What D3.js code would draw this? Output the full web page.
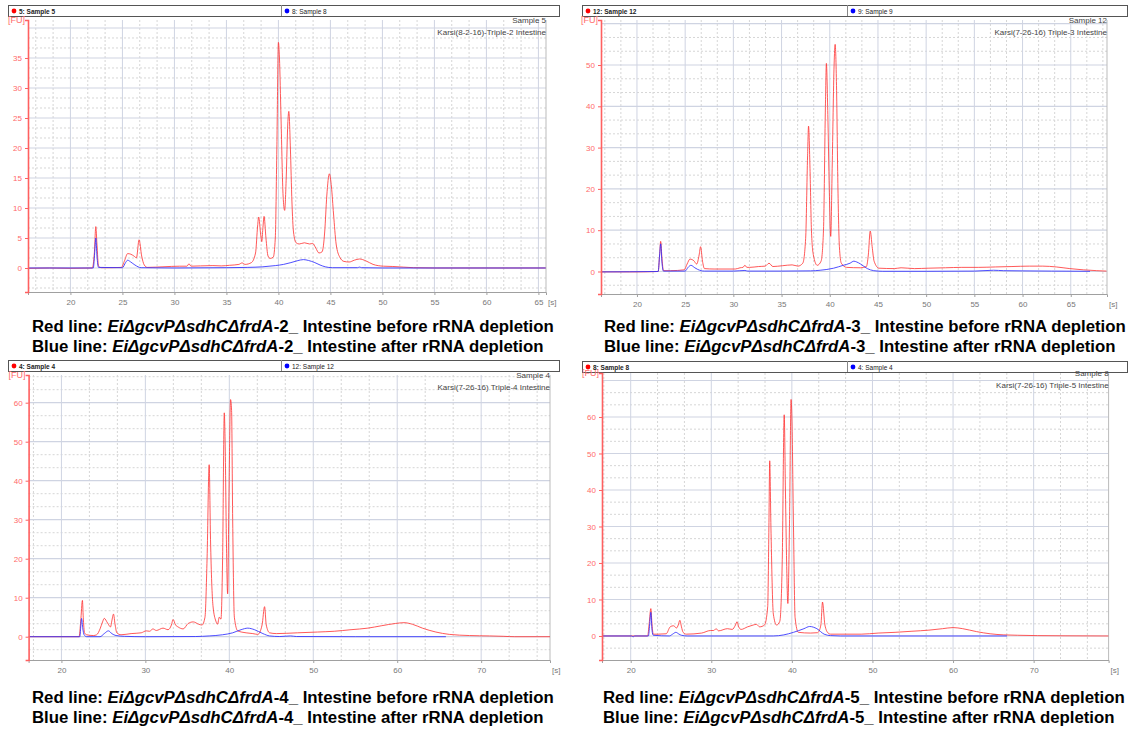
<!DOCTYPE html>
<html>
<head>
<meta charset="utf-8">
<script src="https://cdn.jsdelivr.net/npm/d3@7/dist/d3.min.js"></script>
<style>
  body { margin: 0; background: #fff; }
  svg { display: block; font-family: "Liberation Sans", Arial, sans-serif; }
</style>
</head>
<body>
<svg id="chart" width="1128" height="730"></svg>
<script>
'use strict';

// ---- values: [time s, FU] ----
const redA = [[15.9,-0.05],[18,0],[20,-0.05],[22.1,0],[22.3,2.5],[22.44,6.9],[22.55,4],[22.7,0.3],[23,0.05],[24,0.05],[24.9,0.1],[25.2,1.2],[25.5,2.4],[25.8,2.3],[26.1,2.0],[26.35,1.7],[26.6,4.7],[26.85,2.0],[27.1,0.5],[27.4,0.1],[28.9,0.2],[30.5,0.3],[31.2,0.3],[31.4,0.7],[31.6,0.3],[32.5,0.35],[33.7,0.4],[34.5,0.35],[35.3,0.45],[36.2,0.6],[36.5,0.85],[36.8,0.6],[37.4,0.9],[37.8,2.5],[38.0,7.0],[38.1,8.5],[38.3,5.5],[38.4,4.4],[38.5,6.5],[38.62,8.6],[38.8,5],[39.0,2.0],[39.2,1.6],[39.5,1.8],[39.7,5],[39.85,20],[40.0,37.6],[40.1,35],[40.25,25],[40.45,12],[40.6,9.6],[40.75,15],[40.9,24],[41.0,26.1],[41.15,20],[41.3,11],[41.45,6],[41.7,4.2],[42.0,4.0],[42.5,4.2],[43.0,4.0],[43.3,4.1],[43.6,3.3],[43.9,2.5],[44.2,2.7],[44.45,6],[44.65,12],[44.9,15.7],[45.1,13.5],[45.3,9],[45.55,4],[45.9,1.8],[46.3,1.1],[46.8,1.0],[47.3,1.3],[47.8,1.5],[48.4,1.2],[49.1,0.6],[50.1,0.3],[51.0,0.25],[52.0,0.15],[53.0,0.05],[55,0],[60,0],[65.7,0]];
const blueA = [[15.9,0],[22.2,0],[22.35,3],[22.44,5.0],[22.55,2],[22.7,0.1],[25.0,0.05],[25.3,0.9],[25.5,1.3],[25.8,1.0],[26.2,0.5],[26.8,0.05],[30,0],[35,0.05],[37,0.1],[38.5,0.2],[39.7,0.4],[40.5,0.6],[41.2,0.9],[41.8,1.2],[42.4,1.4],[42.9,1.25],[43.5,0.9],[44.0,0.5],[44.5,0.2],[45.2,0.05],[47.6,0.05],[47.8,0.15],[48,0.05],[50,0],[65.7,0]];

const redB = [[16.3,-0.1],[20,-0.1],[22.2,0],[22.35,4],[22.46,7.3],[22.6,3],[22.75,0.2],[23.5,0.2],[24.9,0.4],[25.2,1.8],[25.5,3.0],[25.9,2.6],[26.2,1.8],[26.45,4],[26.6,6.0],[26.8,2.5],[27.0,0.7],[28,0.6],[30.2,0.6],[30.7,0.9],[31.0,1.0],[31.2,1.5],[31.4,1.0],[31.7,1.0],[32.6,1.2],[33.3,1.3],[33.7,2.0],[34.1,1.2],[35.1,1.4],[36.1,1.6],[36.7,1.3],[37.2,2.0],[37.5,8],[37.7,28],[37.8,35.2],[37.95,25],[38.1,10],[38.3,4],[38.7,1.5],[39.1,2.5],[39.35,10],[39.55,40],[39.65,50.4],[39.8,38],[39.95,20],[40.1,8.5],[40.25,25],[40.45,50],[40.56,55],[40.7,45],[40.85,20],[41.0,6],[41.2,2],[41.75,1.0],[43.2,0.9],[43.8,1.2],[44.0,4],[44.2,9.8],[44.4,6],[44.6,2.5],[45.1,0.8],[46.7,0.7],[47.4,0.9],[48.8,0.7],[50.2,0.8],[52,0.9],[53.7,1.0],[55.4,1.0],[57.2,1.1],[58.9,1.2],[60.7,1.3],[62.1,1.3],[63.5,1.1],[64.9,0.7],[66.3,0.4],[67.7,0.2],[68.7,0.1]];
const blueB = [[16.3,-0.1],[22.2,0],[22.35,4],[22.46,6.7],[22.6,2],[22.75,0.1],[25.0,0.1],[25.3,1.0],[25.6,1.5],[26.0,0.9],[26.3,0.5],[27.0,0.1],[30,0.1],[31.2,0.25],[31.5,0.1],[35,0.1],[38,0.15],[39,0.3],[40.4,0.8],[41.4,1.5],[42.1,2.0],[42.5,2.5],[42.8,2.3],[43.2,1.8],[43.9,0.7],[44.56,0.2],[45.5,0.05],[50,0.05],[55,0.1],[57,0.3],[58,0.2],[60,0.15],[63,0.1],[67,0.05]];

const redC = [[16.1,0],[22.1,0],[22.3,4],[22.5,9.3],[22.6,5],[22.75,1.0],[23.0,0.5],[23.8,0.3],[24.2,0.5],[24.6,2.0],[24.9,3.8],[25.1,4.7],[25.5,3.5],[25.85,2.5],[26.0,4],[26.2,5.8],[26.4,3],[26.6,1.0],[27.1,0.5],[28.3,0.8],[29.5,1.0],[30.1,1.5],[30.5,1.4],[30.9,2.0],[31.3,1.6],[32.1,2.2],[32.7,1.8],[33.1,3],[33.3,4.4],[33.6,3],[33.9,2.5],[34.5,2.0],[35.1,3.4],[35.7,3.8],[36.35,3.2],[36.75,3.0],[37.1,5],[37.35,20],[37.6,44.1],[37.76,25],[38.05,8],[38.4,4],[38.6,3.2],[38.8,5],[39.0,4.5],[39.2,20],[39.4,57.4],[39.5,50],[39.65,25],[39.8,11],[39.95,35],[40.15,60.8],[40.27,58],[40.4,30],[40.6,5],[41.0,1.5],[42.0,1.0],[42.8,0.8],[43.4,0.6],[43.9,3],[44.2,7.7],[44.4,3],[44.8,1.0],[45.6,0.8],[48.1,1.0],[50.5,1.2],[52.5,1.4],[54.5,1.8],[56.5,2.2],[58.1,2.8],[59.8,3.4],[60.8,3.6],[61.8,3.2],[63.0,2.2],[64.6,1.2],[66.2,0.6],[68.6,0.3],[71.0,0.2],[72.7,0.1],[74,0],[78.2,0]];
const blueC = [[16.1,0],[22.2,0],[22.3,2.5],[22.4,4.7],[22.55,2],[22.7,0.5],[23.0,0],[24.6,0],[25.1,0.8],[25.6,1.5],[26.0,0.8],[26.5,0.3],[27.5,0.1],[30,0],[36,0.05],[37.6,0.2],[39.2,0.5],[40.4,1.0],[41.4,1.8],[42.2,2.2],[43.0,1.8],[44.0,0.8],[44.8,0.2],[46,0.05],[47.3,0.2],[48,0.05],[55,0],[65.8,0]];

const redD = [[16.4,0],[22.1,0],[22.3,3.5],[22.5,7.5],[22.65,3],[22.8,0.5],[23.4,0.5],[24.4,0.6],[24.9,2.5],[25.3,2.8],[25.7,2.2],[25.9,3],[26.1,4.3],[26.3,2.5],[26.5,1.0],[26.9,0.5],[28.8,0.8],[29.9,1.5],[30.3,1.5],[30.6,2.0],[30.9,1.4],[32.0,2.0],[32.6,1.8],[33.0,3],[33.2,3.9],[33.4,2.5],[33.7,1.8],[34.5,2.5],[35.2,3.0],[35.6,3.2],[36.0,2.5],[36.6,3.0],[37.0,8],[37.15,30],[37.25,48],[37.4,30],[37.7,6],[38.1,3],[38.5,4],[38.8,20],[39.05,60.6],[39.2,40],[39.35,20],[39.5,8.9],[39.7,30],[39.9,64.8],[40.0,60],[40.2,30],[40.4,5],[40.8,1.0],[42.3,0.8],[43.2,0.9],[43.6,3],[43.8,9.3],[44.1,3],[44.5,0.8],[44.8,0.5],[48.6,0.5],[50.7,0.8],[52.8,1.0],[54.9,1.3],[57.0,1.6],[58.7,2.0],[60.0,2.3],[61.2,2.0],[62.9,1.2],[64.6,0.6],[66.3,0.3],[68.0,0.2],[70.5,0.1],[73.9,0.05],[79.3,0]];
const blueD = [[16.4,0],[20.1,0],[20.3,-0.25],[20.5,0],[22.2,0],[22.35,3],[22.5,6.5],[22.65,1.5],[22.8,0.2],[24.8,0],[25.2,0.5],[25.6,1.0],[26.0,0.5],[26.3,0.2],[27,0],[37.7,0],[39.0,0.3],[40.2,1.0],[41.5,2.0],[42.2,2.6],[43.1,2.0],[44.0,0.5],[44.8,0.1],[46,0],[66.7,0]];

// tick labels
const xTicksTop = [20, 25, 30, 35, 40, 45, 50, 55, 60, 65];
const xTicksBottom = [20, 30, 40, 50, 60, 70];
const yTicksA = [0, 5, 10, 15, 20, 25, 30, 35];
const yTicksB = [0, 10, 20, 30, 40, 50];
const yTicksCD = [0, 10, 20, 30, 40, 50, 60];

// texts
const legendLabels = [['5: Sample 5', '8: Sample 8'], ['12: Sample 12', '9: Sample 9'],
  ['4: Sample 4', '12: Sample 12'], ['8: Sample 8', '4: Sample 4']];
const sampleTitles = [['Sample 5', 'Karsi(8-2-16)-Triple-2 Intestine'], ['Sample 12', 'Karsi(7-26-16) Triple-3 Intestine'],
  ['Sample 4', 'Karsi(7-26-16) Triple-4 Intestine'], ['Sample 8', 'Karsi(7-26-16) Triple-5 Intestine']];
const strain = 'EiΔgcvPΔsdhCΔfrdA';
const replicates = ['-2', '-3', '-4', '-5'];

// layout of each panel (pixels) and axis ranges
const panels = [
  { red: redA, blue: blueA, xTicks: xTicksTop, yTicks: yTicksA, xStep: 5, yStep: 5,
    left: 28, right: 546, top: 20, bottom: 292, xDomain: [15.92, 65.73], yDomain: [-4, 41.33],
    hx0: 8, hx1: 560, hy: 5, hmid: 281, capX: 32, capY: 332 },
  { red: redB, blue: blueB, xTicks: xTicksTop, yTicks: yTicksB, xStep: 5, yStep: 10,
    left: 601, right: 1107, top: 20, bottom: 294, xDomain: [16.27, 68.76], yDomain: [-5.45, 60.9],
    hx0: 582, hx1: 1128, hy: 5, hmid: 847, capX: 604, capY: 332 },
  { red: redC, blue: blueC, xTicks: xTicksBottom, yTicks: yTicksCD, xStep: 10, yStep: 10,
    left: 28.6, right: 550, top: 375, bottom: 660, xDomain: [16.09, 78.2], yDomain: [-5.97, 67.1],
    hx0: 8, hx1: 560, hy: 360, hmid: 281, capX: 32, capY: 703 },
  { red: redD, blue: blueD, xTicks: xTicksBottom, yTicks: yTicksCD, xStep: 10, yStep: 10,
    left: 602, right: 1108.6, top: 373, bottom: 660, xDomain: [16.44, 79.3], yDomain: [-6.58, 72.05],
    hx0: 582, hx1: 1128, hy: 361, hmid: 847, capX: 603, capY: 703 },
];

const svg = d3.select('#chart');
svg.append('rect').attr('width', 1128).attr('height', 730).attr('fill', '#fff');

// multiples of step/3 inside the domain, split into major / minor
const gridVals = (dom, step) => {
  const sub = step / 3;
  const k0 = Math.ceil(dom[0] / sub), k1 = Math.floor(dom[1] / sub);
  const major = [], minor = [];
  for (let k = k0; k <= k1; k++) (k % 3 === 0 ? major : minor).push(k * sub);
  return { major, minor };
};

panels.forEach((p, i) => {
  const g = svg.append('g');
  const x = d3.scaleLinear().domain(p.xDomain).range([p.left, p.right]);
  const y = d3.scaleLinear().domain(p.yDomain).range([p.bottom, p.top]);

  // legend bar on top
  const hh = 11;
  g.append('rect').attr('x', p.hx0 + 0.5).attr('y', p.hy + 0.5)
    .attr('width', p.hx1 - p.hx0 - 1).attr('height', hh)
    .attr('fill', '#fff').attr('stroke', '#555');
  g.append('line').attr('x1', p.hmid + 0.5).attr('x2', p.hmid + 0.5)
    .attr('y1', p.hy).attr('y2', p.hy + hh).attr('stroke', '#888');
  [[p.hx0, '#f00', 'bold'], [p.hmid, '#00f', 'normal']].forEach(([x0, c, w], j) => {
    g.append('circle').attr('cx', x0 + 6).attr('cy', p.hy + 6).attr('r', 2.4).attr('fill', c);
    g.append('text').attr('x', x0 + 11).attr('y', p.hy + 8.5)
      .attr('font-size', 6.5).attr('font-weight', w).attr('fill', '#222')
      .text(legendLabels[i][j]);
  });

  // grid
  const gx = gridVals(p.xDomain, p.xStep), gy = gridVals(p.yDomain, p.yStep);
  const grid = g.append('g');
  grid.selectAll('.mx').data(gx.minor).join('line')
    .attr('x1', d => x(d)).attr('x2', d => x(d)).attr('y1', p.top).attr('y2', p.bottom)
    .attr('stroke', '#d6d6d6').attr('stroke-dasharray', '2,2');
  grid.selectAll('.my').data(gy.minor).join('line')
    .attr('y1', d => y(d)).attr('y2', d => y(d)).attr('x1', p.left).attr('x2', p.right)
    .attr('stroke', '#d6d6d6').attr('stroke-dasharray', '2,2');
  grid.selectAll('.Mx').data(gx.major).join('line')
    .attr('x1', d => x(d)).attr('x2', d => x(d)).attr('y1', p.top).attr('y2', p.bottom)
    .attr('stroke', '#cfd4e2');
  grid.selectAll('.My').data(gy.major).join('line')
    .attr('y1', d => y(d)).attr('y2', d => y(d)).attr('x1', p.left).attr('x2', p.right)
    .attr('stroke', '#cfd4e2').attr('stroke-width', 1.2);
  g.append('line').attr('x1', p.right).attr('x2', p.right).attr('y1', p.top).attr('y2', p.bottom)
    .attr('stroke', '#bbb');

  // traces
  const clipId = `clip${i}`;
  g.append('clipPath').attr('id', clipId).append('rect')
    .attr('x', p.left).attr('y', p.top).attr('width', p.right - p.left).attr('height', p.bottom - p.top);
  const line = d3.line().x(d => x(d[0])).y(d => y(d[1])).curve(d3.curveMonotoneX);
  const traces = g.append('g').attr('clip-path', `url(#${clipId})`);
  traces.append('path').datum(p.red).attr('d', line)
    .attr('fill', 'none').attr('stroke', '#ff3030').attr('stroke-opacity', 0.8).attr('stroke-width', 1);
  traces.append('path').datum(p.blue).attr('d', line)
    .attr('fill', 'none').attr('stroke', '#2f2fff').attr('stroke-opacity', 0.85).attr('stroke-width', 1);

  // axes
  const ax = g.append('g').attr('transform', `translate(0,${p.bottom})`)
    .call(d3.axisBottom(x).tickValues(p.xTicks).tickSize(3).tickFormat(d3.format('d')));
  ax.select('.domain').attr('stroke', '#a0a0a0');
  ax.selectAll('.tick line').attr('stroke', '#a0a0a0');
  ax.selectAll('text').attr('fill', '#777').attr('font-size', 8)
    .attr('font-family', '"Liberation Sans", Arial, sans-serif').attr('dy', '0.9em');
  g.append('text').attr('x', p.right + 2).attr('y', p.bottom + 13)
    .attr('font-size', 8).attr('fill', '#777').text('[s]');

  const ay = g.append('g').attr('transform', `translate(${p.left},0)`)
    .call(d3.axisLeft(y).tickValues(p.yTicks).tickSize(3).tickFormat(d3.format('d')));
  ay.select('.domain').attr('stroke', '#ff6060').attr('stroke-width', 1.6);
  ay.selectAll('.tick line').attr('stroke', '#ff6060');
  ay.selectAll('text').attr('fill', '#ff6a6a').attr('font-size', 8)
    .attr('font-family', '"Liberation Sans", Arial, sans-serif');
  g.append('text').attr('x', p.left - 3).attr('y', p.top + 3).attr('text-anchor', 'end')
    .attr('font-size', 9).attr('fill', '#ff6a6a').text('[FU]');

  // sample titles
  sampleTitles[i].forEach((t, j) => {
    g.append('text').attr('x', p.right).attr('y', p.top + 3 + j * 12).attr('text-anchor', 'end')
      .attr('font-size', 8).attr('fill', '#444').text(t);
  });

  // captions
  [['Red line: ', ' Intestine before rRNA depletion'], ['Blue line: ', ' Intestine after rRNA depletion']]
    .forEach(([a, b], j) => {
      const t = g.append('text').attr('x', p.capX).attr('y', p.capY + j * 20)
        .attr('font-size', 16.8).attr('font-weight', 'bold').attr('fill', '#000');
      t.append('tspan').text(a);
      t.append('tspan').attr('font-style', 'italic').text(strain);
      t.append('tspan').text(replicates[i] + '_' + b);
    });
});
</script>
</body>
</html>
